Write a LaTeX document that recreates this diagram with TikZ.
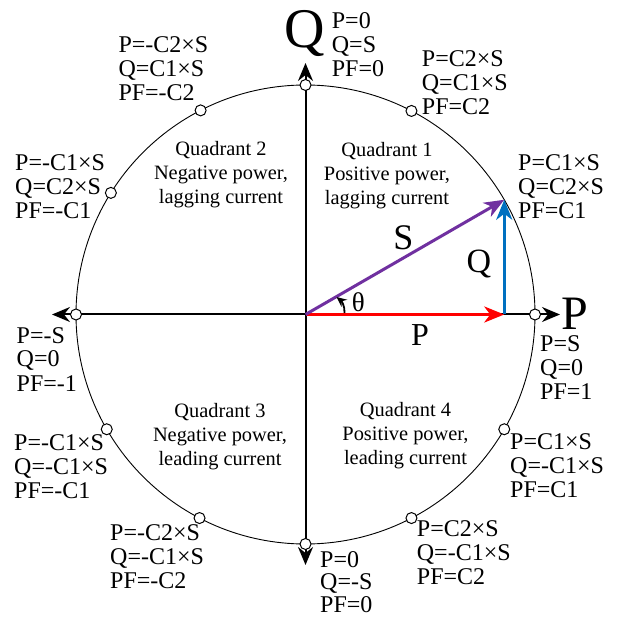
\documentclass[tikz,border=0pt]{standalone}
\usepackage{fontspec}
\setmainfont{Liberation Serif}
\usetikzlibrary{arrows.meta}
\definecolor{vred}{RGB}{255,0,0}
\definecolor{vpurple}{RGB}{112,48,160}
\definecolor{vblue}{RGB}{0,112,192}
\newcommand\ctrln[1]{\hbox to 0pt{\hss #1\hss}}
\begin{document}
\begin{tikzpicture}[x=1pt,y=-1pt,
  axis/.style={line width=2pt, -{Stealth[length=18pt,width=15pt,inset=6pt]}},
  vec/.style={line width=3pt, -{Stealth[length=20pt,width=16pt,inset=6pt]}},
  dot/.style={circle, draw, fill=white, line width=1pt, minimum size=11pt, inner sep=0pt},
  lab/.style={inner sep=0pt, anchor=base west, font=\fontsize{24}{24}\selectfont},
  quad/.style={inner sep=0pt, anchor=base, font=\fontsize{20.4}{24}\selectfont},
  big/.style={inner sep=0pt, font=\fontsize{#1}{#1}\selectfont},
]
\fill[white] (0,0) rectangle (618,617);
\useasboundingbox (0,0) rectangle (618,617);
\coordinate (O) at (305.5,314.5);
\coordinate (Rtip) at (560,314.5);
\coordinate (Ltip) at (52,314.5);
\coordinate (Ttip) at (305.5,63);
\coordinate (Btip) at (305.5,565);
\draw[axis] (O) -- (Rtip);
\draw[axis] (O) -- (Ltip);
\draw[axis] (O) -- (Ttip);
\draw[axis] (O) -- (Btip);
\draw[line width=0.9pt] (O) circle[radius=229.5];
\foreach \a/\n in {0/pe,62.5/pa,90/pn,117.2/pb,148/pc,180/pw,210/pd,242.5/pf,270/ps,297.5/pg,330/ph}
  \node[dot] (\n) at ({305.5+229.5*cos(\a)},{314.5-229.5*sin(\a)}) {};
\coordinate (Stip) at ({305.5+229.5*cos(30)},{314.5-229.5*sin(30)});
\coordinate (Ptip) at (Stip |- O);
\draw[vec, vred] (O) -- (Ptip);
\draw[vec, vblue] (Ptip) -- (Stip);
\draw[vec, vpurple] (O) -- (Stip);
\coordinate (th1) at (344.5,313);
\coordinate (th2) at (336.5,297);
\draw[line width=1.8pt, -{Stealth[length=10pt,width=9pt]}] (th1) .. controls (345,306) and (341.5,301) .. (th2);
% axis letters
\node[big=56, anchor=base] (Qax) at (305,48) {Q};
\node[big=48, anchor=base west] (Pax) at (561,330) {P};
\node[big=36] (Slab) at (403.5,237.5) {S};
\node[big=34] (Qlab) at (479,264) {Q};
\node[big=32] (Plab) at (420,335.5) {P};
\node[big=27] (thlab) at (358.3,302.3) {θ};
% point labels
\node[lab] (l90) at (331.7,29) {\vtop{\hbox{P=0}\hbox{Q=S}\hbox{PF=0}}};
\node[lab] (l62) at (421.7,66.7) {\vtop{\hbox{P=C2×S}\hbox{Q=C1×S}\hbox{PF=C2}}};
\node[lab] (l30) at (518,170.7) {\vtop{\hbox{P=C1×S}\hbox{Q=C2×S}\hbox{PF=C1}}};
\node[lab] (l0) at (540,351.5) {\vtop{\hbox{P=S}\hbox{Q=0}\hbox{PF=1}}};
\node[lab] (l330) at (510,449) {\vtop{\hbox{P=C1×S}\hbox{Q=-C1×S}\hbox{PF=C1}}};
\node[lab] (l297) at (416.7,536.7) {\vtop{\hbox{P=C2×S}\hbox{Q=-C1×S}\hbox{PF=C2}}};
\node[lab, font=\fontsize{24}{22.5}\selectfont] (l270) at (320,567) {\vtop{\hbox{P=0}\hbox{Q=-S}\hbox{PF=0}}};
\node[lab] (l242) at (110,540) {\vtop{\hbox{P=-C2×S}\hbox{Q=-C1×S}\hbox{PF=-C2}}};
\node[lab] (l210) at (14,450) {\vtop{\hbox{P=-C1×S}\hbox{Q=-C1×S}\hbox{PF=-C1}}};
\node[lab] (l180) at (16.5,343) {\vtop{\hbox{P=-S}\hbox{Q=0}\hbox{PF=-1}}};
\node[lab] (l150) at (15,170.7) {\vtop{\hbox{P=-C1×S}\hbox{Q=C2×S}\hbox{PF=-C1}}};
\node[lab] (l117) at (118.3,53) {\vtop{\hbox{P=-C2×S}\hbox{Q=C1×S}\hbox{PF=-C2}}};
% quadrant texts
\node[quad] (q1) at (387,157) {\vtop{\ctrln{Quadrant 1}\ctrln{Positive power,}\ctrln{lagging current}}};
\node[quad] (q2) at (221,156) {\vtop{\ctrln{Quadrant 2}\ctrln{Negative power,}\ctrln{lagging current}}};
\node[quad] (q3) at (220,417) {\vtop{\ctrln{Quadrant 3}\ctrln{Negative power,}\ctrln{leading current}}};
\node[quad] (q4) at (405.5,416) {\vtop{\ctrln{Quadrant 4}\ctrln{Positive power,}\ctrln{leading current}}};
\end{tikzpicture}
\end{document}
